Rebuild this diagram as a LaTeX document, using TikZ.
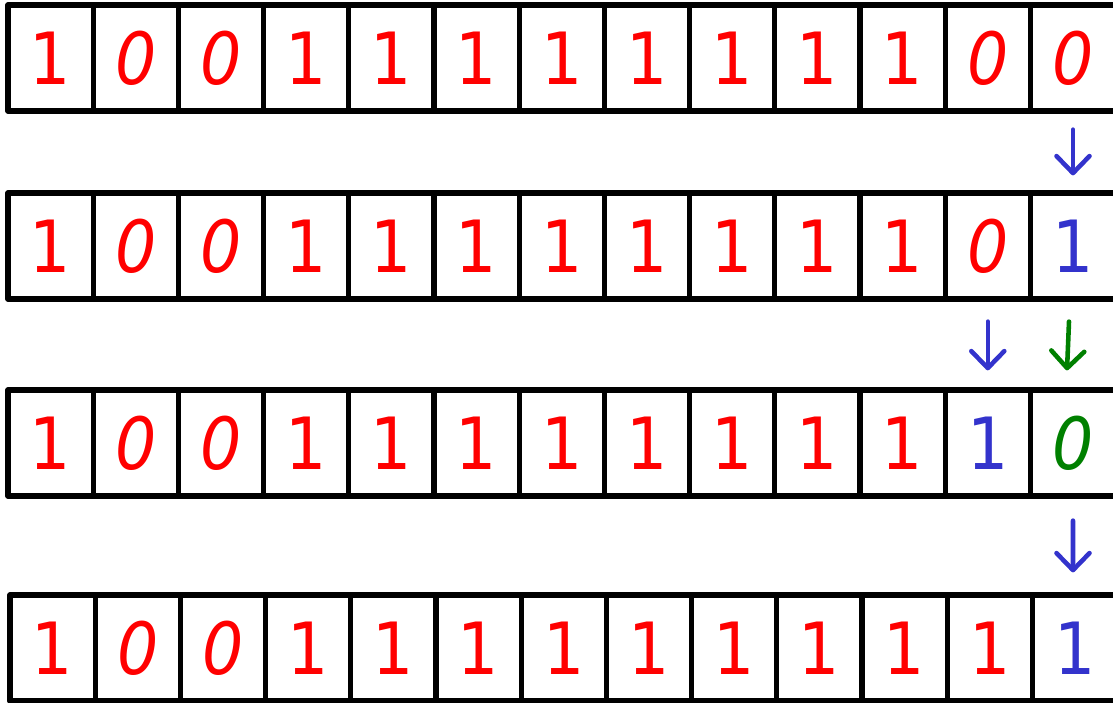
\documentclass[tikz,border=0pt]{standalone}
\usepackage{fontspec}
\newfontfamily\digitfont{DejaVu Sans Condensed}
\usepackage{tikz}
\usetikzlibrary{arrows.meta}

\definecolor{bitred}{RGB}{255,0,0}
\definecolor{bitblue}{RGB}{51,51,204}
\definecolor{bitgreen}{RGB}{0,128,0}

\newcommand{\bit}[1]{\ifnum#1=0 \itshape\fi#1}

\tikzset{
  cell/.style={draw, line width=3pt, line join=round, minimum width=1.704cm,
    minimum height=2.12cm, inner sep=0pt, font=\digitfont\fontsize{41}{41}\selectfont},
  bitarrow/.style={line width=2.6pt, line cap=round,
    -{Straight Barb[length=0.34cm, width=0.66cm, line cap=round, line join=round]}},
}

\begin{document}
\begin{tikzpicture}[x=0.02cm, y=-0.02cm]
            \useasboundingbox (0,0) rectangle (1113,703);
            \begin{scope}
            \clip (0,0) rectangle (1113,703);
            % row 1
            \foreach \d [count=\i] in {1,0,0,1,1,1,1,1,1,1,1,0,0}
              \node[cell, text=bitred] (r1c\i) at ({8+85.2*(\i-0.5)}, 58) {\bit{\d}};
            % row 2
            \foreach \d [count=\i] in {1,0,0,1,1,1,1,1,1,1,1,0}
              \node[cell, text=bitred] (r2c\i) at ({8+85.2*(\i-0.5)}, 246) {\bit{\d}};
            \node[cell, text=bitblue] (r2c13) at ({8+85.2*12.5}, 246) {\bit{1}};
            % row 3
            \foreach \d [count=\i] in {1,0,0,1,1,1,1,1,1,1,1}
              \node[cell, text=bitred] (r3c\i) at ({8+85.2*(\i-0.5)}, 443) {\bit{\d}};
            \node[cell, text=bitblue] (r3c12) at ({8+85.2*11.5}, 443) {\bit{1}};
            \node[cell, text=bitgreen] (r3c13) at ({8+85.2*12.5}, 443) {\bit{0}};
            % row 4
            \foreach \d [count=\i] in {1,0,0,1,1,1,1,1,1,1,1,1}
              \node[cell, text=bitred] (r4c\i) at ({10+85.2*(\i-0.5)}, 648) {\bit{\d}};
            \node[cell, text=bitblue] (r4c13) at ({10+85.2*12.5}, 648) {\bit{1}};
            \end{scope}
            % carries
            \draw[bitarrow, bitblue] ([yshift=-0.32cm]r1c13.south) -- ([yshift=0.3cm]r2c13.north);
            \draw[bitarrow, bitblue] ([yshift=-0.4cm]r2c12.south) -- ([yshift=0.34cm]r3c12.north);
            \draw[bitarrow, bitgreen] ([xshift=-0.08cm, yshift=-0.4cm]r2c13.south) -- ([xshift=-0.12cm, yshift=0.34cm]r3c13.north);
            \draw[bitarrow, bitblue] ([yshift=-0.44cm]r3c13.south) -- ([xshift=-0.04cm, yshift=0.4cm]r4c13.north);
\end{tikzpicture}
\end{document}
